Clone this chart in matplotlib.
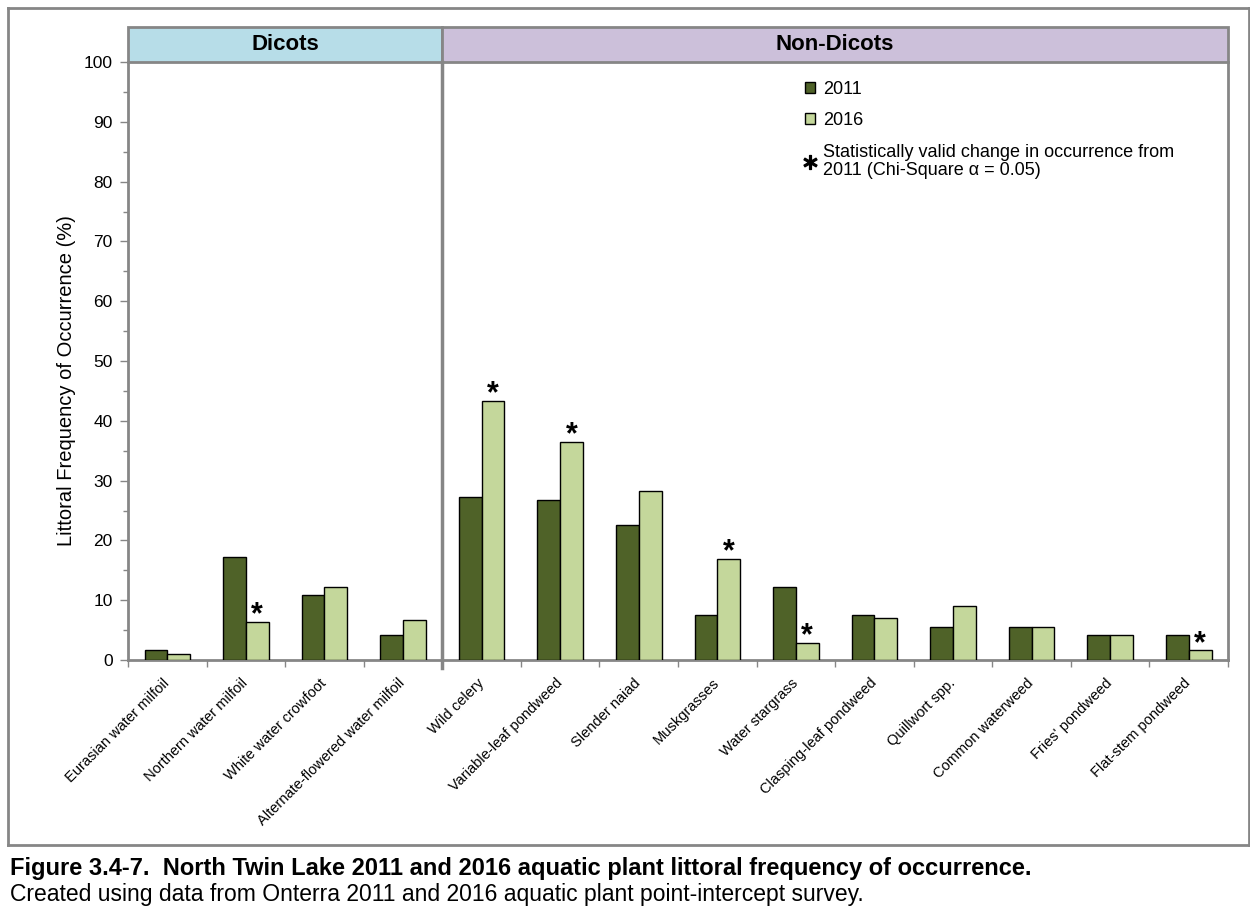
import numpy as np
import matplotlib.pyplot as plt
from matplotlib.patches import Rectangle, Patch
from matplotlib.lines import Line2D
import matplotlib.transforms as mtransforms

plt.rcParams['font.family'] = ['Liberation Sans', 'DejaVu Sans']

# 数据
species = ['Eurasian water milfoil', 'Northern water milfoil', 'White water crowfoot',
           'Alternate-flowered water milfoil', 'Wild celery', 'Variable-leaf pondweed',
           'Slender naiad', 'Muskgrasses', 'Water stargrass', 'Clasping-leaf pondweed',
           'Quillwort spp.', 'Common waterweed', "Fries' pondweed", 'Flat-stem pondweed']
freq_2011 = [1.6, 17.3, 10.8, 4.2, 27.3, 26.8, 22.6, 7.5, 12.2, 7.5, 5.6, 5.6, 4.2, 4.2]
freq_2016 = [1.0, 6.3, 12.2, 6.7, 43.3, 36.5, 28.2, 16.9, 2.8, 7.1, 9.1, 5.6, 4.2, 1.6]
significant = [False, True, False, False, True, True, False, True, True, False, False, False, False, True]
n_dicots = 4
caption1 = 'Figure 3.4-7.  North Twin Lake 2011 and 2016 aquatic plant littoral frequency of occurrence.'
caption2 = 'Created using data from Onterra 2011 and 2016 aquatic plant point-intercept survey.'

c2011 = '#4F6228'
c2016 = '#C4D79B'
gray = '#868686'

fig = plt.figure(figsize=(12.5, 9.09), dpi=100)
ax = fig.add_axes([0.1024, 0.2739, 0.88, 0.6579])

x = np.arange(len(species))
w = 0.29
ax.bar(x - w / 2, freq_2011, w, color=c2011, edgecolor='black', linewidth=1, zorder=3)
ax.bar(x + w / 2, freq_2016, w, color=c2016, edgecolor='black', linewidth=1, zorder=3)

# 星号标记
for i in range(len(species)):
    if significant[i]:
        ax.annotate('*', (x[i] + w / 2, freq_2016[i]), xytext=(0, -6), textcoords='offset points',
                    ha='center', va='bottom', fontsize=22, fontweight='bold')

ax.set_xlim(-0.5, len(species) - 0.5)
ax.set_ylim(0, 100)
ax.set_yticks(np.arange(0, 101, 10))
ax.set_yticks(np.arange(0, 101, 5), minor=True)
ax.tick_params(axis='y', which='major', labelsize=12.5, length=6, color=gray, width=1, pad=5)
ax.tick_params(axis='y', which='minor', length=3.5, color=gray, width=1)

ax.set_xticks(x)
ax.set_xticklabels(species, rotation=45, ha='right', va='center', rotation_mode='anchor', fontsize=10.5)
ax.set_xticks(np.arange(-0.5, len(species), 1), minor=True)
ax.tick_params(axis='x', which='major', length=0, pad=15)
ax.tick_params(axis='x', which='minor', length=5, color=gray, width=1)

for s in ['left', 'right', 'bottom']:
    ax.spines[s].set_color(gray)
    ax.spines[s].set_linewidth(2)
ax.spines['top'].set_visible(False)

ax.set_ylabel('Littoral Frequency of Occurrence (%)', fontsize=14.5)
ax.yaxis.set_label_coords(-0.047, 0.468)

# 分隔线
ax.plot([n_dicots - 0.5, n_dicots - 0.5], [-1.4, 100], color=gray, linewidth=2.5,
        clip_on=False, zorder=4)

# 顶部标题栏
trans = mtransforms.blended_transform_factory(ax.transData, ax.transAxes)
hh = 0.0585
ax.add_patch(Rectangle((-0.5, 1), n_dicots, hh, transform=trans, clip_on=False,
                       facecolor='#B7DDE8', edgecolor=gray, linewidth=2))
ax.add_patch(Rectangle((n_dicots - 0.5, 1), len(species) - n_dicots, hh, transform=trans,
                       clip_on=False, facecolor='#CCC0DA', edgecolor=gray, linewidth=2))
ax.text((n_dicots - 1) / 2, 1 + hh / 2, 'Dicots', transform=trans, ha='center', va='center',
        fontsize=16, fontweight='bold')
ax.text((n_dicots - 0.5 + len(species) - 0.5) / 2, 1 + hh / 2, 'Non-Dicots', transform=trans,
        ha='center', va='center', fontsize=16, fontweight='bold')

# 图例
handles = [Patch(facecolor=c2011, edgecolor='black'),
           Patch(facecolor=c2016, edgecolor='black'),
           Line2D([], [], marker=r'$\ast$', linestyle='none', color='black', markersize=10)]
labels = ['2011', '2016', 'Statistically valid change in occurrence from\n2011 (Chi-Square α = 0.05)']
leg = ax.legend(handles, labels, loc='upper left', bbox_to_anchor=(0.601, 0.996), frameon=False,
                fontsize=13, handlelength=0.55, handleheight=0.55, handletextpad=0.45,
                labelspacing=0.8)
for t in leg.get_texts():
    t.set_linespacing(1.1)

# 外框
fig.add_artist(Line2D([8 / 1250, 8 / 1250], [1 - 8 / 909, 1 - 845 / 909], color=gray, linewidth=2))
fig.add_artist(Line2D([8 / 1250, 1], [1 - 8 / 909, 1 - 8 / 909], color=gray, linewidth=2))
fig.add_artist(Line2D([1249 / 1250, 1249 / 1250], [1 - 8 / 909, 1 - 845 / 909], color=gray, linewidth=2))
fig.add_artist(Line2D([8 / 1250, 1], [1 - 845 / 909, 1 - 845 / 909], color=gray, linewidth=2))

# 说明文字
fig.text(10 / 1250, 1 - 868 / 909, caption1, fontsize=17, fontweight='bold', va='center', ha='left')
fig.text(10 / 1250, 1 - 894 / 909, caption2, fontsize=16.5, va='center', ha='left')

plt.savefig('out.png', dpi=100)
